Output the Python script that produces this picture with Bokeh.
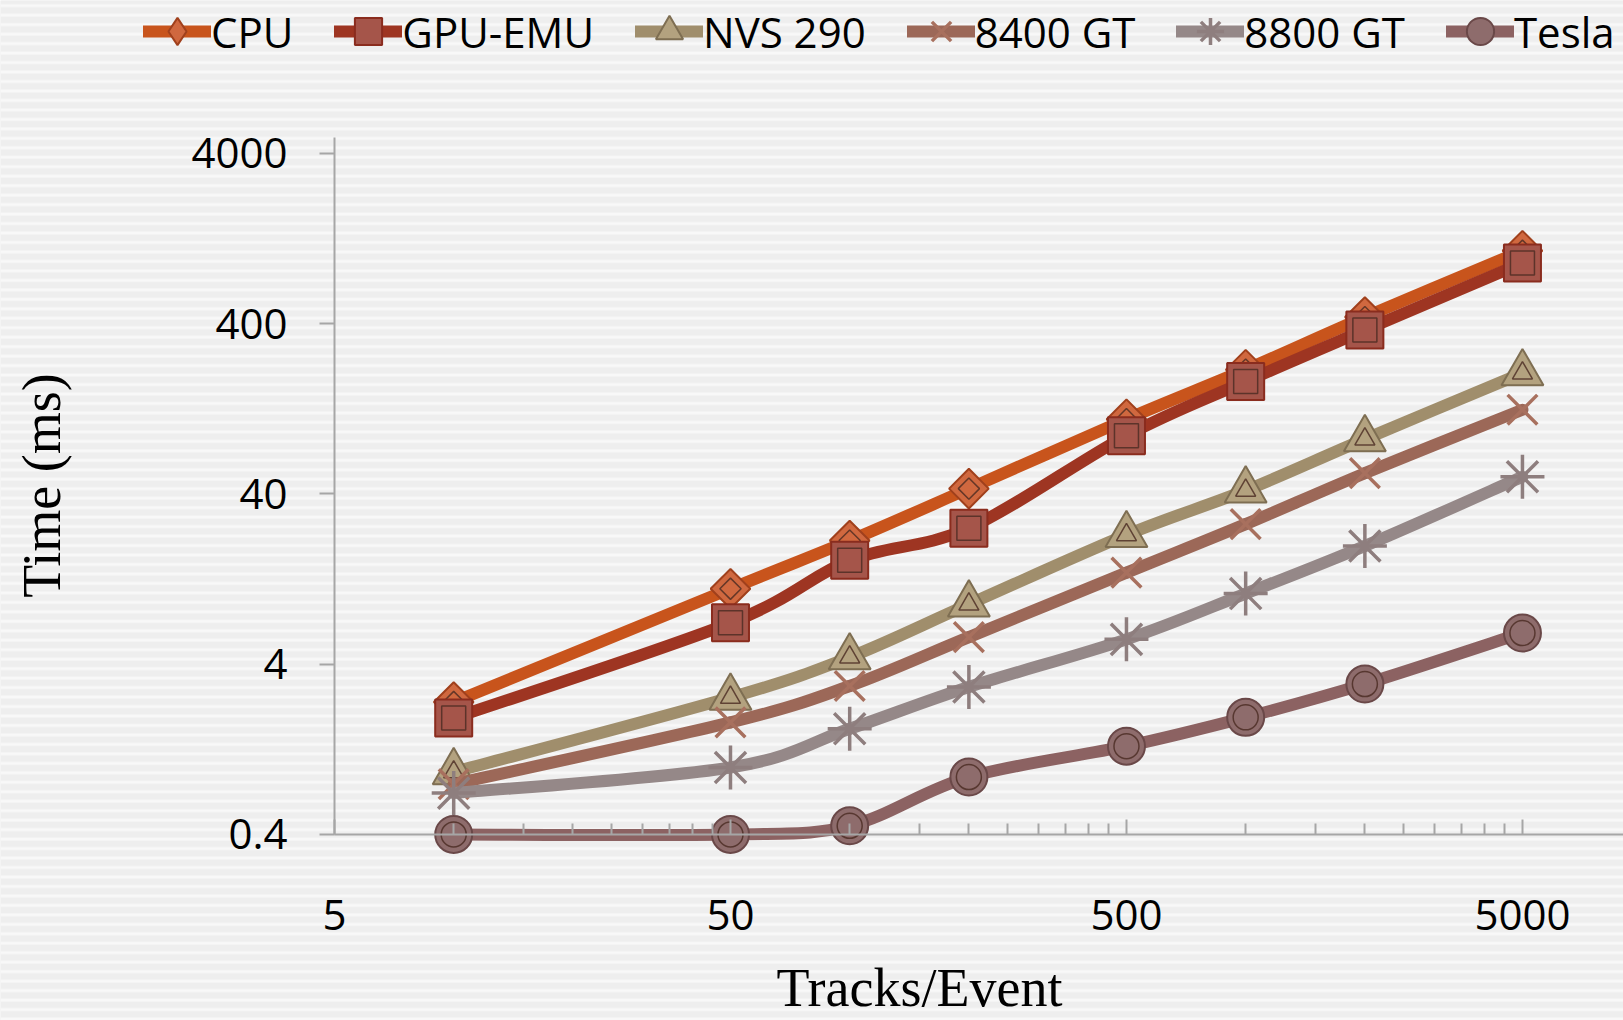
import numpy as np
from bokeh.plotting import figure
from bokeh.models import (Range1d, FixedTicker, Legend, LegendItem, Label,
                          ColumnDataSource, BoxAnnotation)
from bokeh.embed import file_html
from bokeh.resources import INLINE

# ---------------- data ----------------
tracks = [10, 50, 100, 200, 500, 1000, 2000, 5000]
cpu = [2.4, 11.1, 21.3, 43, 110, 215, 438, 1074]
gpu_emu = [1.93, 7.0, 16.3, 25.2, 88, 183, 367, 910]
nvs290 = [0.93, 2.55, 4.4, 9.0, 23, 42, 84, 205]
gt8400 = [0.79, 1.82, 2.98, 5.77, 13.8, 26.6, 53, 125]
gt8800 = [0.70, 0.99, 1.67, 2.94, 5.6, 10.4, 19.8, 50.5]
tesla = [0.40, 0.40, 0.45, 0.87, 1.32, 1.95, 3.06, 6.1]

series_names = ["CPU", "GPU-EMU", "NVS 290", "8400 GT", "8800 GT", "Tesla"]
series_values = [cpu, gpu_emu, nvs290, gt8400, gt8800, tesla]

x_ticks = [5, 50, 500, 5000]
x_tick_labels = ["5", "50", "500", "5000"]
y_ticks = [0.4, 4, 40, 400, 4000]
y_tick_labels = ["0.4", "4", "40", "400", "4000"]
x_minor = [m * b for b in (5, 50, 500) for m in range(2, 10)]

# ---------------- styles ----------------
styles = [
    dict(line="#C8541C", marker="square", angle=np.pi / 4, size=28, fill="#D0683F",
         edge="#A0401C", inner=15, legend_marker="diamond"),
    dict(line="#9E3522", marker="square", angle=0, size=37, fill="#A5554A",
         edge="#8A2C1E", inner=24, legend_marker=None),
    dict(line="#A08E6C", marker="triangle", angle=0, size=42, fill="#B3A27F",
         edge="#7E6E52", inner=20, legend_marker=None),
    dict(line="#9C6858", marker="x", angle=0, size=42, fill="#A8705E",
         edge="#A8705E", inner=0, legend_marker=None),
    dict(line="#958888", marker="asterisk", angle=0, size=44, fill="#8E7E7E",
         edge="#8E7E7E", inner=0, legend_marker=None),
    dict(line="#8C6262", marker="circle", angle=0, size=37, fill="#8E6C6C",
         edge="#6A4848", inner=25, legend_marker=None),
]

BG = "#eeeeee"
AX = "#a6a6a6"
W, H = 1623, 1020

# the frame covers the whole canvas; axes are placed at fixed data locations
p = figure(width=W, height=H, x_axis_type="log", y_axis_type="log",
           x_range=Range1d(0.7170, 8998), y_range=Range1d(0.03231, 31672),
           output_backend="svg", toolbar_location=None,
           min_border_left=0, min_border_right=0,
           min_border_top=0, min_border_bottom=0)
p.background_fill_color = BG
p.border_fill_color = BG
p.outline_line_color = None
p.xgrid.visible = False
p.ygrid.visible = False

p.add_layout(BoxAnnotation(fill_color=BG, fill_alpha=1.0, line_color=None,
                           hatch_pattern="horizontal_line", hatch_color="#f8f8f8",
                           hatch_scale=9.47, hatch_weight=3, level="underlay"))

# x axis
xa = p.xaxis[0]
xa.ticker = FixedTicker(ticks=x_ticks, minor_ticks=x_minor)
xa.major_label_overrides = dict(zip(x_ticks, x_tick_labels))
xa.fixed_location = 0.4
xa.bounds = (5, 8998)
xa.axis_line_color = AX
xa.axis_line_width = 2
xa.major_tick_line_color = AX
xa.major_tick_line_width = 2
xa.minor_tick_line_color = AX
xa.minor_tick_line_width = 2
xa.major_tick_in = 15
xa.major_tick_out = 0
xa.minor_tick_in = 11
xa.minor_tick_out = 0
xa.major_label_standoff = 66
xa.major_label_text_font = "Open Sans"
xa.major_label_text_font_size = "42px"
xa.major_label_text_color = "black"

# y axis
ya = p.yaxis[0]
ya.ticker = FixedTicker(ticks=y_ticks, minor_ticks=[])
ya.major_label_overrides = dict(zip(y_ticks, y_tick_labels))
ya.fixed_location = 5
ya.bounds = (0.4, 4966)
ya.axis_line_color = AX
ya.axis_line_width = 2
ya.major_tick_line_color = AX
ya.major_tick_line_width = 2
ya.major_tick_in = 0
ya.major_tick_out = 15
ya.minor_tick_line_color = None
ya.major_label_standoff = 32
ya.major_label_text_font = "Open Sans"
ya.major_label_text_font_size = "42px"
ya.major_label_text_color = "black"


def smooth_segments(xs, ys):
    lx = np.log10(np.asarray(xs, float))
    ly = np.log10(np.asarray(ys, float))
    n = len(lx)
    d = dict(x0=[], y0=[], x1=[], y1=[], cx0=[], cy0=[], cx1=[], cy1=[])
    for i in range(n - 1):
        a = max(i - 1, 0)
        b = min(i + 2, n - 1)
        d["x0"].append(10 ** lx[i]); d["y0"].append(10 ** ly[i])
        d["x1"].append(10 ** lx[i + 1]); d["y1"].append(10 ** ly[i + 1])
        d["cx0"].append(10 ** (lx[i] + (lx[i + 1] - lx[a]) / 6))
        d["cy0"].append(10 ** (ly[i] + (ly[i + 1] - ly[a]) / 6))
        d["cx1"].append(10 ** (lx[i + 1] - (lx[b] - lx[i]) / 6))
        d["cy1"].append(10 ** (ly[i + 1] - (ly[b] - ly[i]) / 6))
    return d


items = []
for name, vals, st in zip(series_names, series_values, styles):
    src = ColumnDataSource(smooth_segments(tracks, vals))
    lr = p.bezier(x0="x0", y0="y0", x1="x1", y1="y1", cx0="cx0", cy0="cy0",
                  cx1="cx1", cy1="cy1", source=src, line_color=st["line"],
                  line_width=12, line_cap="round")
    if st["marker"] in ("x", "asterisk"):
        mr = p.scatter(tracks, vals, marker=st["marker"], size=st["size"],
                       line_color=st["edge"], line_width=3.5)
    else:
        mr = p.scatter(tracks, vals, marker=st["marker"], size=st["size"],
                       angle=st["angle"], fill_color=st["fill"],
                       line_color=st["edge"], line_width=2)
        p.scatter(tracks, vals, marker=st["marker"], size=st["inner"],
                  angle=st["angle"], fill_color=None,
                  line_color="#4a2a22", line_width=1.5, line_alpha=0.8)
    leg_renderers = [lr, mr]
    if st["legend_marker"] is not None:
        # legend-only glyph (rotated markers are not rotated in legends)
        lm = p.scatter(tracks, vals, marker=st["legend_marker"], size=st["size"],
                       fill_color=st["fill"], line_color=st["edge"],
                       line_width=2, visible=False)
        leg_renderers = [lr, lm]
    items.append(LegendItem(label=name, renderers=leg_renderers))

legend = Legend(items=items, location=(143, 955), orientation="horizontal",
                glyph_width=68, glyph_height=68, label_height=68,
                label_standoff=0, spacing=41, padding=0, margin=0,
                label_text_font="Open Sans", label_text_font_size="42px",
                label_text_color="black",
                border_line_alpha=0, background_fill_alpha=0,
                inactive_fill_alpha=0)
p.add_layout(legend)

p.add_layout(Label(x=919, y=33, x_units="screen", y_units="screen",
                   text="Tracks/Event", text_font="Liberation Serif",
                   text_font_size="54px", text_align="center",
                   text_baseline="alphabetic", text_color="black"))
p.add_layout(Label(x=41, y=535, x_units="screen", y_units="screen",
                   text="Time (ms)", text_font="Liberation Serif",
                   text_font_size="54px", text_align="center",
                   text_baseline="middle", angle=np.pi / 2, text_color="black"))

open("out.html", "w").write(file_html(p, INLINE))
